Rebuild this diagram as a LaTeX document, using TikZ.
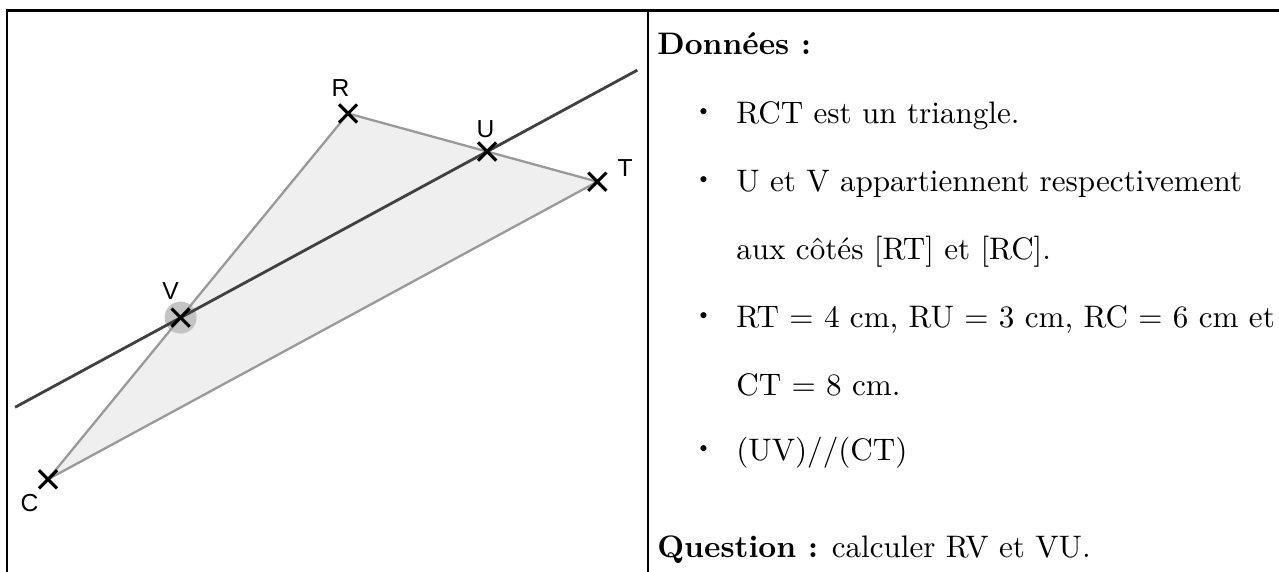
\documentclass[tikz,border=0pt]{standalone}
\usepackage{fontspec}
\setmainfont{lmroman10-regular}[Extension=.otf,BoldFont=lmroman10-bold]
\newfontfamily\ggbfont{Liberation Sans}
\usepackage{xcolor}
\usepackage{tikz}
\usetikzlibrary{calc,positioning,shapes.misc}
\definecolor{GBEdge}{HTML}{999999}
\definecolor{GBFill}{HTML}{EFEFEF}
\definecolor{GBLine}{HTML}{404040}
\definecolor{GBHalo}{HTML}{C4C4C4}
\tikzset{
  ptmark/.style={cross out,draw=black,line width=1.8pt,minimum size=0.3cm,inner sep=0pt},
  ptname/.style={inner sep=0pt,font=\ggbfont\fontsize{14}{14}\selectfont},
  txt/.style={anchor=base west,inner sep=0pt,font=\fontsize{17.7}{20}\selectfont},
  itemdot/.style={inner sep=0pt,font=\fontsize{12}{14}\selectfont}
}

\begin{document}
\begin{tikzpicture}[x=1cm,y=1cm]
\path[use as bounding box] (0,0) rectangle (25.58,11.44);
\coordinate (R) at (6.96,9.17);
\coordinate (C) at (0.96,1.854);
\coordinate (T) at (11.946,7.806);
\coordinate (V) at ($(R)!0.558!(C)$);
\coordinate (U) at ($(R)!0.558!(T)$);
\fill[GBFill] (R) -- (C) -- (T) -- cycle;
\fill[GBHalo] (V) circle (0.32);
\draw[GBEdge,line width=1.3pt,line join=round] (R) -- (C) -- (T) -- cycle;
\draw[GBLine,line width=1.6pt] ($(V)!-0.54!(U)$) -- ($(V)!1.49!(U)$);
\node[ptmark] (xR) at (R) {};
\node[ptmark] (xC) at (C) {};
\node[ptmark] (xT) at (T) {};
\node[ptmark] (xV) at (V) {};
\node[ptmark] (xU) at (U) {};
\node[ptname,above=0.34cm of xR.center,xshift=-0.15cm] (nR) {R};
\node[ptname,above=0.27cm of xU.center,xshift=-0.03cm] (nU) {U};
\node[ptname,right=0.4cm of xT.center,yshift=0.27cm] (nT) {T};
\node[ptname,above=0.36cm of xV.center,xshift=-0.2cm] (nV) {V};
\node[ptname,below=0.3cm of xC.center,xshift=-0.37cm] (nC) {C};
\draw[line width=1.4pt] (0.14,0) -- (0.14,11.23) -- (25.58,11.23);
\draw[line width=1.3pt] (12.96,0) -- (12.96,11.23);
\node[txt] (hData) at (13.14,10.35) {\textbf{Données :}};
\foreach \y [count=\i] in {8.97,7.61,4.89,2.22}
  \node[itemdot] (bul\i) at (14.07,\y+0.224) {\textbullet};
\node[txt] (l1) at (14.72,8.97) {RCT est un triangle.};
\node[txt] (l2) at (14.72,7.61) {U et V appartiennent respectivement};
\node[txt] (l3) at (14.72,6.25) {aux côtés [RT] et [RC].};
\node[txt] (l4) at (14.72,4.89) {RT = 4 cm, RU = 3 cm, RC = 6 cm et};
\node[txt] (l5) at (14.72,3.53) {CT = 8 cm.};
\node[txt] (l6) at (14.72,2.22) {(UV)//(CT)};
\node[txt] (hQuest) at (13.14,0.28) {\textbf{Question :} calculer RV et VU.};
\end{tikzpicture}
\end{document}
